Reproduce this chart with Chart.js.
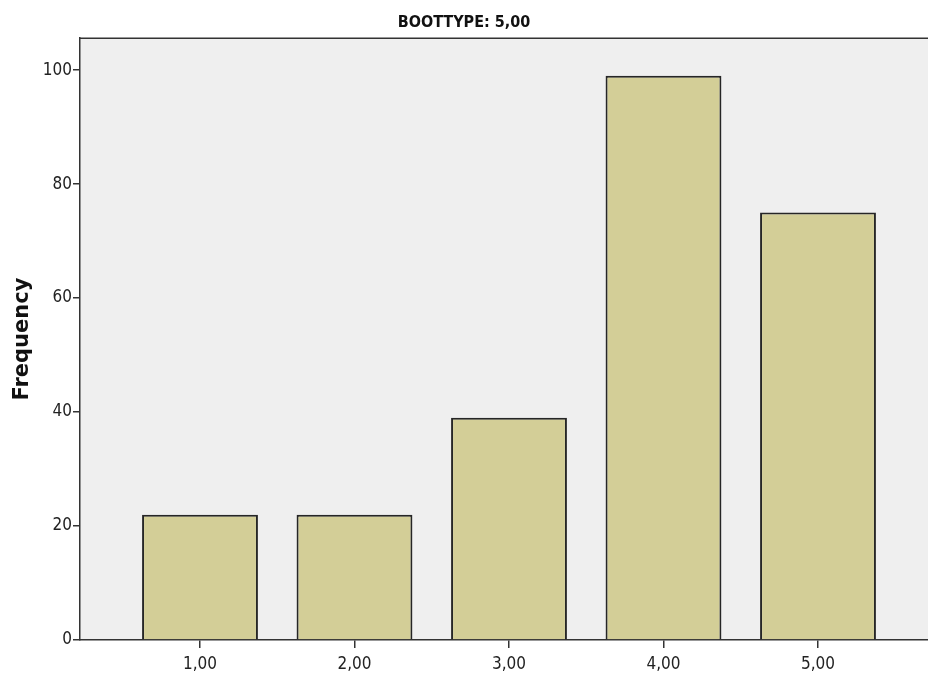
<!DOCTYPE html>
<html>
<head>
<meta charset="utf-8">
<script src="https://cdn.jsdelivr.net/npm/chart.js@4"></script>
<style>
  html, body { margin: 0; padding: 0; background: #fff; overflow: hidden; }
  #wrap { width: 928px; height: 677px; }
</style>
</head>
<body>
<div id="wrap"><canvas id="chart"></canvas></div>
<script>
const categories = ["1,00", "2,00", "3,00", "4,00", "5,00"];
const frequencies = [22, 22, 39, 99, 75];
const yTicks = [0, 20, 40, 60, 80, 100];

const narrow = "'Liberation Sans Narrow', 'DejaVu Sans Condensed', sans-serif";

// grey plot background plus the top frame line
const plotFrame = {
  id: "plotFrame",
  beforeDraw(chart) {
    const { ctx, chartArea: a } = chart;
    ctx.save();
    ctx.fillStyle = "#efefef";
    ctx.fillRect(a.left, a.top, a.right - a.left, a.bottom - a.top);
    ctx.strokeStyle = "#333";
    ctx.lineWidth = 1.5;
    ctx.beginPath();
    ctx.moveTo(a.left, a.top);
    ctx.lineTo(a.right, a.top);
    ctx.stroke();
    ctx.restore();
  }
};

new Chart(document.getElementById("chart"), {
  type: "bar",
  data: {
    datasets: [{
      data: frequencies.map((v, i) => ({ x: i + 1, y: v })),
      backgroundColor: "#d3ce97",
      borderColor: "#262626",
      borderWidth: 2,
      barPercentage: 0.75,
      categoryPercentage: 1
    }]
  },
  options: {
    responsive: true,
    maintainAspectRatio: false,
    animation: false,
    layout: { padding: 0 },
    plugins: {
      legend: { display: false },
      tooltip: { enabled: false },
      title: {
        display: true,
        text: "BOOTTYPE: 5,00",
        color: "#111",
        font: { family: narrow, size: 16, weight: "bold" },
        padding: { top: 13, bottom: 6 }
      }
    },
    scales: {
      x: {
        type: "linear",
        offset: false,
        min: 0.2233,
        max: 5.712,
        afterBuildTicks: s => { s.ticks = categories.map((c, i) => ({ value: i + 1 })); },
        afterFit: s => { s.height = 37; },
        ticks: {
          color: "#222",
          font: { family: narrow, size: 17 },
          padding: 6,
          callback: v => categories[v - 1]
        },
        grid: { offset: false, drawOnChartArea: false, drawTicks: true, tickLength: 8, color: "#333", lineWidth: 1.5 },
        border: { color: "#333", width: 1.5 }
      },
      y: {
        min: 0,
        max: 105.6,
        afterBuildTicks: s => { s.ticks = yTicks.map(v => ({ value: v })); },
        afterFit: s => { s.width = 80; },
        ticks: {
          color: "#222",
          font: { family: narrow, size: 17 },
          padding: 1
        },
        grid: { drawOnChartArea: false, drawTicks: true, tickLength: 7, color: "#333", lineWidth: 1.5 },
        border: { color: "#333", width: 1.5 },
        title: {
          display: true,
          text: "Frequency",
          color: "#111",
          font: { family: "'DejaVu Sans', sans-serif", size: 21, weight: "bold" },
          padding: { top: 10, bottom: 0 }
        }
      }
    }
  },
  plugins: [plotFrame]
});
</script>
</body>
</html>
